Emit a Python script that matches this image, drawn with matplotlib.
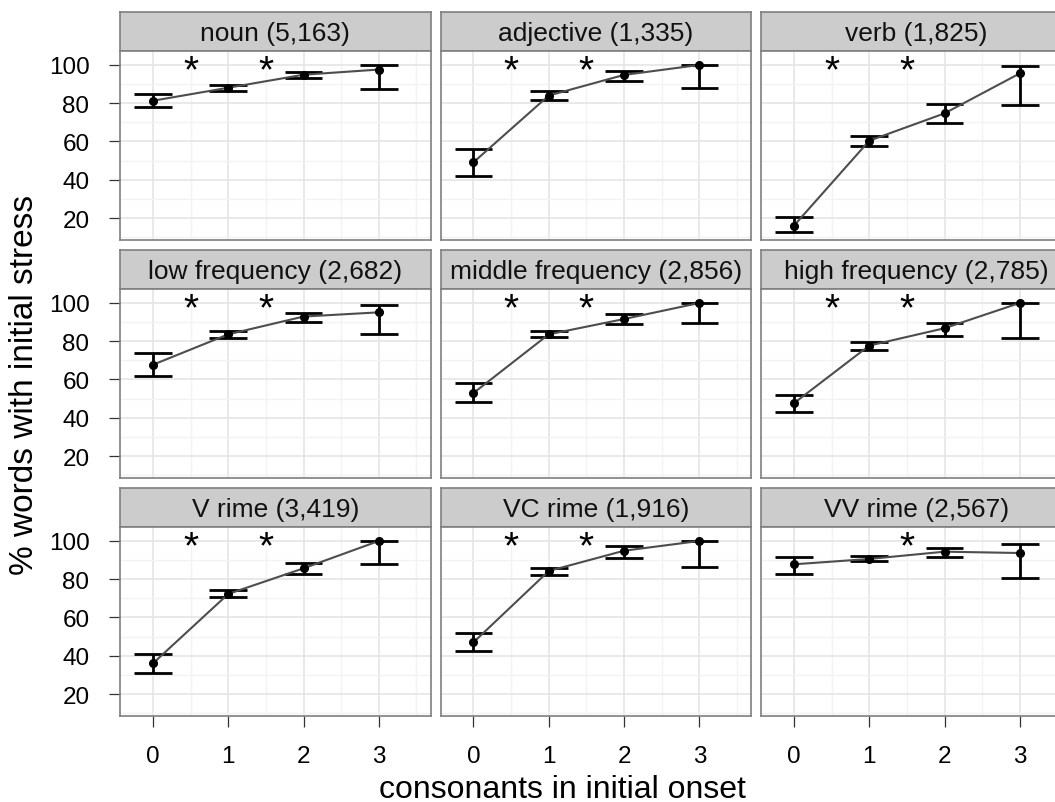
import matplotlib
matplotlib.use('Agg')
import matplotlib.pyplot as plt
from matplotlib.ticker import MultipleLocator

plt.rcParams['font.family'] = ['Liberation Sans', 'DejaVu Sans']

# ---- data ----
panel_titles = ['noun (5,163)', 'adjective (1,335)', 'verb (1,825)',
                'low frequency (2,682)', 'middle frequency (2,856)', 'high frequency (2,785)',
                'V rime (3,419)', 'VC rime (1,916)', 'VV rime (2,567)']
onset = [0, 1, 2, 3]
pct = [[81.3, 88.1, 94.9, 97.6],
       [49.1, 84.0, 94.8, 100.0],
       [16.0, 60.4, 74.7, 95.6],
       [67.7, 83.6, 92.9, 95.1],
       [52.9, 83.6, 91.6, 100.0],
       [47.6, 77.7, 86.8, 100.0],
       [36.0, 72.3, 85.7, 100.0],
       [47.0, 84.3, 94.9, 100.0],
       [87.8, 90.6, 94.4, 93.7]]
ci_low = [[77.9, 86.6, 93.0, 87.5],
          [42.1, 81.5, 91.5, 87.8],
          [12.8, 57.5, 69.5, 79.1],
          [62.0, 81.9, 90.2, 83.8],
          [48.1, 82.1, 89.0, 89.5],
          [43.2, 75.6, 82.9, 81.7],
          [31.1, 70.6, 82.5, 88.1],
          [42.3, 82.2, 91.1, 86.6],
          [82.7, 89.4, 91.8, 80.5]]
ci_high = [[84.8, 89.5, 96.5, 99.8],
           [55.9, 86.2, 97.0, 100.0],
           [20.4, 63.0, 79.6, 99.5],
           [73.7, 85.4, 94.9, 99.0],
           [58.0, 85.5, 94.1, 100.0],
           [52.1, 79.4, 89.5, 100.0],
           [40.9, 74.4, 88.5, 100.0],
           [51.9, 86.1, 97.2, 100.0],
           [91.5, 92.0, 96.2, 98.4]]
# significant differences between neighbouring onset sizes
star_x = [[0.5, 1.5], [0.5, 1.5], [0.5, 1.5],
          [0.5, 1.5], [0.5, 1.5], [0.5, 1.5],
          [0.5, 1.5], [0.5, 1.5], [1.5]]
star_y = 100.5

# ---- layout (pixels) ----
W, H = 1055, 803
col_left = [120, 440.5, 761]
row_top = [13, 251, 489]
strip_h = 39
pan_w = 310.6
pan_h = 189
border_col = '#7F7F7F'

fig = plt.figure(figsize=(W / 100, H / 100), dpi=100)

def rect(x, y, w, h):
    # pixel box (top-left origin) -> figure fraction
    return [x / W, 1 - (y + h) / H, w / W, h / H]

for i, title in enumerate(panel_titles):
    r, c = divmod(i, 3)
    x0 = col_left[c]
    y0 = row_top[r]

    # strip
    sax = fig.add_axes(rect(x0, y0, pan_w, strip_h))
    sax.set_facecolor('#CCCCCC')
    sax.set_xticks([])
    sax.set_yticks([])
    for sp in sax.spines.values():
        sp.set_color(border_col)
        sp.set_linewidth(1.2)
    sax.text(0.5, 0.47, title, ha='center', va='center', fontsize=19,
             color='#111111', transform=sax.transAxes)

    # panel
    ax = fig.add_axes(rect(x0, y0 + strip_h, pan_w, pan_h))
    ax.set_xlim(-0.4375, 3.6875)
    ax.set_ylim(8.5, 107.3)
    ax.xaxis.set_major_locator(MultipleLocator(1))
    ax.xaxis.set_minor_locator(MultipleLocator(0.5))
    ax.yaxis.set_major_locator(MultipleLocator(20))
    ax.yaxis.set_minor_locator(MultipleLocator(10))
    ax.set_yticks([20, 40, 60, 80, 100])
    ax.grid(which='major', color='#E5E5E5', linewidth=1.2)
    ax.grid(which='minor', color='#F3F3F3', linewidth=1.0)
    ax.set_axisbelow(True)
    for sp in ax.spines.values():
        sp.set_color(border_col)
        sp.set_linewidth(1.2)
        sp.set_zorder(5)

    ax.tick_params(which='minor', length=0)
    ax.tick_params(which='major', length=8, width=0.9, color='#333333',
                   labelsize=17.5, labelcolor='black')
    ax.tick_params(axis='y', pad=14)
    ax.tick_params(axis='x', pad=13)
    if c != 0:
        ax.tick_params(axis='y', length=0, labelleft=False)
    if r != 2:
        ax.tick_params(axis='x', length=0, labelbottom=False)

    # error bars
    ax.vlines(onset, ci_low[i], ci_high[i], color='black', linewidth=2.0, zorder=2)
    ax.hlines(ci_low[i], [x - 0.25 for x in onset], [x + 0.25 for x in onset],
              color='black', linewidth=2.0, zorder=2)
    ax.hlines(ci_high[i], [x - 0.25 for x in onset], [x + 0.25 for x in onset],
              color='black', linewidth=2.0, zorder=2)
    # mean line and points
    ax.plot(onset, pct[i], color='#4D4D4D', linewidth=1.5, zorder=3)
    ax.plot(onset, pct[i], 'o', color='black', markersize=5.5, zorder=4)

    for sx in star_x[i]:
        ax.annotate('*', xy=(sx, star_y), xytext=(0, -12.5), textcoords='offset points',
                    ha='center', va='baseline', fontsize=28, color='black')

fig.text(25 / W, 1 - 385 / H, '% words with initial stress', rotation=90,
         ha='center', va='center', fontsize=24)
fig.text(562 / W, 1 - 798 / H, 'consonants in initial onset',
         ha='center', va='baseline', fontsize=23)

fig.savefig('out.png', dpi=100, facecolor='white')
